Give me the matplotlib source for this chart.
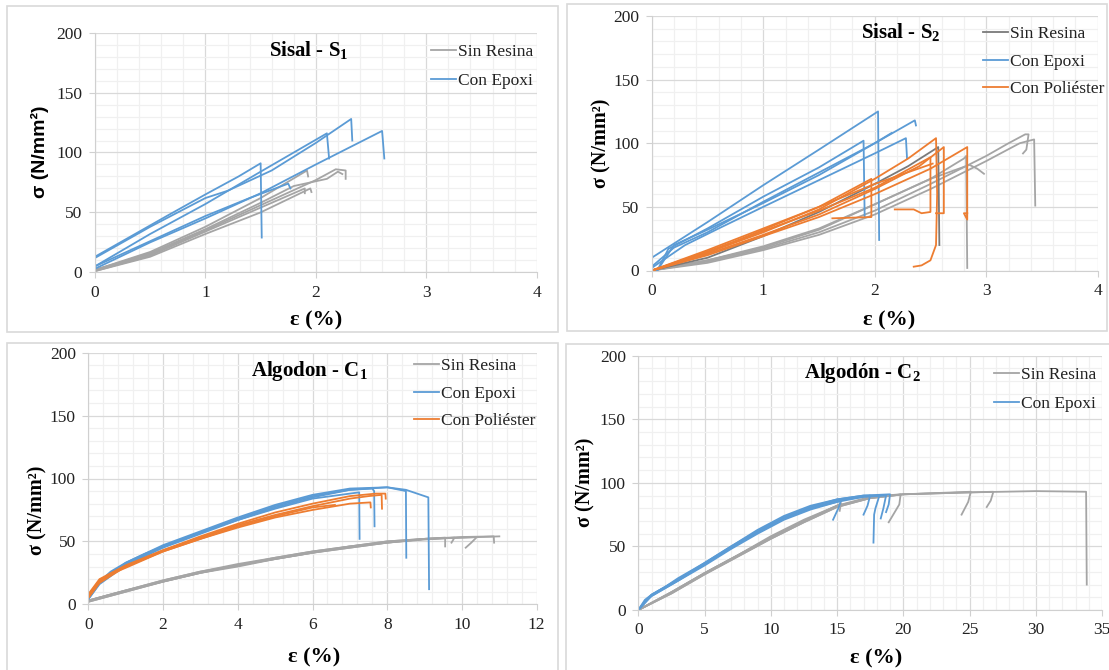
import matplotlib
matplotlib.use('Agg')
import matplotlib.pyplot as plt
from matplotlib.patches import Rectangle
from matplotlib.ticker import MultipleLocator

# ---- data (strain %, stress N/mm2) ----
# Sisal - S1
s1_sin = [
    ([0, 0.5, 1.0, 1.5, 1.92, 1.93], [2, 17, 38, 62, 85, 80]),
    ([0, 0.5, 1.0, 1.5, 2.0, 2.1, 2.18, 2.27, 2.27], [2, 15, 35, 56, 77, 82, 86, 85, 78]),
    ([0, 0.5, 1.0, 1.5, 1.95, 1.96], [1, 13, 32, 50, 70, 67]),
    ([0, 0.5, 1.0, 1.5, 1.85, 1.9, 1.9], [1, 14, 34, 54, 68, 70, 66]),
    ([0, 0.5, 1.0, 1.5, 1.8, 2.1, 2.2, 2.24], [2, 16, 36, 58, 72, 78, 84, 82]),
]
s1_epoxi = [
    ([0, 0.65, 1.0, 1.3, 1.5, 1.51], [13, 47, 65, 80, 91, 29]),
    ([0, 0.5, 1.0, 1.2, 1.6, 2.0, 2.32, 2.33], [12, 38, 62, 68, 85, 108, 128, 110]),
    ([0, 0.5, 1.0, 1.5, 2.1, 2.12], [5, 32, 57, 84, 116, 95]),
    ([0, 0.5, 1.0, 1.5, 2.0, 2.6, 2.62], [3, 25, 45, 66, 90, 118, 95]),
    ([0, 0.5, 1.0, 1.4, 1.75, 1.77], [5, 26, 47, 62, 74, 70]),
]

# Sisal - S2
s2_sin = [
    ([0, 0.5, 1.0, 1.5, 2.0, 2.5, 2.8, 2.82, 2.83], [0, 8, 18, 32, 52, 72, 88, 90, 2]),
    ([0, 0.5, 1.0, 1.5, 2.0, 2.5, 3.0, 3.2, 3.35, 3.38, 3.36, 3.33],
     [0, 7, 17, 30, 47, 68, 90, 100, 107, 107, 95, 92]),
    ([0, 0.5, 1.0, 1.5, 2.0, 2.5, 3.0, 3.3, 3.43, 3.44], [0, 6, 16, 28, 44, 64, 86, 100, 103, 51]),
    ([0, 0.5, 1.0, 1.5, 2.0, 2.5, 2.85, 2.92, 2.98], [0, 8, 19, 33, 52, 72, 83, 80, 76]),
]
s2_sin_dark = [
    ([0, 0.5, 1.0, 1.5, 2.0, 2.3, 2.57, 2.58], [0, 10, 27, 46, 68, 82, 97, 20]),
]
s2_epoxi = [
    ([0, 0.5, 1.0, 1.5, 2.03, 2.04], [10, 38, 67, 95, 125, 24]),
    ([0.05, 0.15, 0.5, 1.0, 1.5, 1.9, 1.91], [0, 17, 33, 58, 81, 102, 42]),
    ([0, 0.2, 0.5, 1.0, 1.5, 2.0, 2.36, 2.37], [3, 18, 30, 54, 77, 100, 118, 114]),
    ([0, 0.3, 0.6, 1.0, 1.5, 2.0, 2.28, 2.29], [2, 20, 33, 50, 71, 92, 104, 88]),
    ([0.05, 0.2, 0.5, 1.0, 1.5, 2.0, 2.15], [0, 20, 32, 53, 75, 100, 108]),
]
s2_poliester = [
    ([0, 0.5, 1.0, 1.5, 2.0, 2.3, 2.55, 2.56, 2.55, 2.5, 2.42, 2.35],
     [0, 14, 30, 48, 72, 88, 104, 60, 20, 8, 4, 3]),
    ([0, 0.5, 1.0, 1.5, 2.0, 2.4, 2.62, 2.62, 2.55], [0, 13, 28, 44, 64, 82, 97, 45, 45]),
    ([0, 0.5, 1.0, 1.5, 2.0, 2.5, 2.83, 2.83, 2.8, 2.83], [0, 12, 27, 42, 60, 80, 97, 40, 45, 45]),
    ([0, 0.5, 1.0, 1.5, 2.0, 2.5, 2.5, 2.42, 2.35, 2.18], [0, 15, 31, 47, 65, 89, 46, 45, 48, 48]),
    ([0, 0.5, 1.0, 1.5, 1.97, 1.97, 1.62], [0, 16, 33, 50, 72, 42, 41]),
    ([0, 0.5, 1.0, 1.5, 2.0, 2.52], [0, 14, 32, 50, 68, 84]),
]

# Algodon - C1
c1_sin = [
    ([0, 1, 2, 3, 4, 5, 6, 7, 8, 9, 9.55, 9.55], [3, 11, 19, 26, 31, 37, 42, 46, 50, 52, 53, 46]),
    ([0, 1, 2, 3, 4, 5, 6, 7, 8, 9, 9.8, 9.72], [2, 10, 18, 25, 31, 36, 41, 45, 49, 51.5, 53, 49]),
    ([0, 1, 2, 3, 4, 5, 6, 7, 8, 9, 10, 10.4, 10.25, 10.1],
     [3, 11, 19, 26, 32, 37, 42, 46, 50, 52, 53, 53.5, 49, 45]),
    ([0, 1, 2, 3, 4, 5, 6, 7, 8, 9, 10, 11], [2, 10, 18, 25, 30, 36, 41, 45, 49, 52, 53, 54]),
    ([0, 1, 2, 3, 4, 5, 6, 7, 8, 9, 10, 10.85, 10.86],
     [3, 11, 18, 25, 31, 36, 41, 46, 49, 52, 53.5, 54, 49]),
]
c1_epoxi = [
    ([0, 0.3, 0.6, 1, 1.5, 2, 3, 4, 5, 6, 7, 7.25, 7.26],
     [5, 18, 26, 33, 40, 46, 57, 67, 76, 84, 88, 89, 52]),
    ([0, 0.3, 0.6, 1, 2, 3, 4, 5, 6, 7, 7.6, 7.65, 7.66],
     [4, 17, 25, 32, 46, 57, 68, 78, 86, 91, 92, 90, 62]),
    ([0, 0.3, 1, 2, 3, 4, 5, 6, 7, 8, 8.5, 8.51], [5, 17, 33, 47, 58, 69, 79, 87, 92, 93, 90, 37]),
    ([0, 0.3, 1, 2, 3, 4, 5, 6, 7, 8, 8.5, 9.1, 9.12],
     [4, 16, 31, 45, 56, 67, 77, 85, 91, 93, 91, 85, 12]),
]
c1_poliester = [
    ([0, 0.3, 0.6, 1, 2, 3, 4, 5, 6, 7, 7.55, 7.56], [6, 18, 24, 29, 42, 52, 61, 69, 75, 80, 81, 77]),
    ([0, 0.3, 1, 2, 3, 4, 5, 6, 7, 7.5, 7.85, 7.86], [8, 20, 31, 43, 53, 63, 71, 78, 84, 86, 87, 76]),
    ([0, 0.3, 1, 2, 3, 4, 5, 6, 7, 7.7, 7.95, 7.96], [5, 17, 30, 43, 54, 64, 73, 80, 86, 88, 88, 84]),
    ([0, 0.3, 1, 2, 3, 4, 5, 6, 6.6], [7, 19, 30, 42, 52, 62, 70, 77, 79]),
]

# Algodon - C2
c2_sin = [
    ([0, 2.5, 5, 7.5, 10, 12.5, 15, 17.5, 19.8, 19.7, 18.9],
     [0, 14, 29, 43, 57, 70, 82, 89, 91, 83, 69]),
    ([0, 2.5, 5, 7.5, 10, 12.5, 15, 17.5, 20, 25.1, 24.9, 24.4],
     [0, 13, 28, 42, 56, 69, 81, 88, 91, 93, 85, 75]),
    ([0, 2.5, 5, 7.5, 10, 12.5, 15, 17.5, 20, 25, 26.8, 26.6, 26.3],
     [0, 14, 29, 43, 57, 70, 82, 88, 91, 92.5, 93, 86, 81]),
    ([0, 2.5, 5, 7.5, 10, 12.5, 15, 17.5, 20, 25, 30, 33.8, 33.85],
     [0, 13, 28, 42, 56, 69, 81, 88, 91, 92.5, 93.5, 93, 20]),
    ([0, 2.5, 5, 7.5, 10, 12.5, 15, 15.3, 15.2], [0, 14, 29, 43, 58, 71, 82, 84, 78]),
]
c2_epoxi = [
    ([0, 0.5, 1, 2, 3, 5, 7, 9, 11, 13, 15, 15.3, 15.1, 14.7],
     [0, 8, 12, 18, 24, 36, 49, 61, 72, 80, 85, 86, 80, 71]),
    ([0, 0.5, 1, 2, 3, 5, 7, 9, 11, 13, 15, 17, 17.5, 17.3, 17.0],
     [0, 7, 11, 17, 23, 35, 48, 60, 71, 79, 85, 89, 90, 82, 75]),
    ([0, 1, 2, 3, 5, 7, 9, 11, 13, 15, 17, 18.2, 17.9, 17.8, 17.75],
     [0, 12, 18, 24, 37, 50, 62, 73, 81, 87, 90, 90, 80, 75, 53]),
    ([0, 1, 2, 3, 5, 7, 9, 11, 13, 15, 17, 18.7, 18.5, 18.3],
     [0, 11, 17, 23, 36, 49, 61, 72, 80, 86, 89, 90, 80, 72]),
    ([0, 1, 2, 3, 5, 7, 9, 11, 13, 15, 17, 19.0, 18.9, 18.7],
     [0, 12, 18, 25, 37, 50, 63, 74, 82, 87, 90, 91, 83, 77]),
]

GRAY = '#A5A5A5'
DARK = '#7A7A7A'
BLUE = '#5B9BD5'
ORANGE = '#ED7D31'

plt.rcParams['font.family'] = 'Liberation Serif'
plt.rcParams['mathtext.fontset'] = 'custom'
plt.rcParams['mathtext.rm'] = 'Liberation Serif'
plt.rcParams['mathtext.bf'] = 'Liberation Serif:bold'
plt.rcParams['mathtext.it'] = 'Liberation Serif:italic'

W, H = 1109, 670
fig = plt.figure(figsize=(W / 100, H / 100), dpi=100)


def px(x, y):
    return x / W, 1 - y / H


def box(l, t, r, b):
    return [l / W, 1 - b / H, (r - l) / W, (b - t) / H]


def frame(l, t, r, b):
    fig.patches.append(Rectangle((l / W, 1 - b / H), (r - l) / W, (b - t) / H,
                                 transform=fig.transFigure, fill=False,
                                 edgecolor='#D9D9D9', lw=1.2))


def make_axes(rect, xmax, xmaj, xmin):
    ax = fig.add_axes(rect)
    ax.set_xlim(0, xmax)
    ax.set_ylim(0, 200)
    ax.xaxis.set_major_locator(MultipleLocator(xmaj))
    ax.xaxis.set_minor_locator(MultipleLocator(xmin))
    ax.yaxis.set_major_locator(MultipleLocator(50))
    ax.yaxis.set_minor_locator(MultipleLocator(10))
    ax.grid(which='major', color='#D9D9D9', lw=0.9)
    ax.grid(which='minor', color='#F0F0F0', lw=0.9)
    ax.set_axisbelow(True)
    for s in ['top', 'right']:
        ax.spines[s].set_visible(False)
    for s in ['left', 'bottom']:
        ax.spines[s].set_color('#D0D0D0')
    ax.tick_params(which='major', length=4, color='#D0D0D0', labelsize=12.5,
                   labelcolor='#222222', pad=5)
    ax.tick_params(which='minor', length=0)
    return ax


def draw(ax, curves, color, label):
    for i, (x, y) in enumerate(curves):
        ax.plot(x, y, color=color, lw=1.3, label=label if i == 0 else None,
                solid_joinstyle='round')


def legend(ax, x, y, gap):
    leg = ax.legend(loc='upper left', bbox_to_anchor=px(x - 2, y - 6),
                    bbox_transform=fig.transFigure, frameon=False, fontsize=12.5,
                    handlelength=1.45, handletextpad=0.1, borderpad=0,
                    borderaxespad=0, labelspacing=gap)
    for t in leg.get_texts():
        t.set_color('#222222')


def labels(xl, yl, ylabel_font='Liberation Serif'):
    fig.text(*px(*xl), 'ε (%)', ha='center', va='center', fontsize=16,
             fontweight='bold')
    fig.text(*px(*yl), 'σ (N/mm²)', ha='center', va='center', rotation=90,
             fontsize=14.5 if ylabel_font == 'Liberation Serif' else 14,
             fontweight='bold', family=ylabel_font)


# ---- Sisal - S1 ----
frame(7, 6, 558, 332)
ax1 = make_axes(box(95, 32.7, 536.7, 272.3), 4, 1, 0.2)
draw(ax1, s1_sin, GRAY, 'Sin Resina')
draw(ax1, s1_epoxi, BLUE, 'Con Epoxi')
legend(ax1, 433, 50, 0.75)
fig.text(*px(309, 50), r'Sisal - S$_\mathbf{1}$', ha='center', va='center',
         fontsize=15, fontweight='bold')
labels((316, 320), (40, 152), 'Liberation Sans')

# ---- Sisal - S2 ----
frame(567, 4, 1107, 331)
ax2 = make_axes(box(651.7, 16, 1097.7, 270.5), 4, 1, 0.2)
draw(ax2, s2_sin, GRAY, None)
draw(ax2, s2_sin_dark, DARK, 'Sin Resina')
draw(ax2, s2_epoxi, BLUE, 'Con Epoxi')
draw(ax2, s2_poliester, ORANGE, 'Con Poliéster')
legend(ax2, 985, 32, 0.65)
fig.text(*px(901, 32), r'Sisal - S$_\mathbf{2}$', ha='center', va='center',
         fontsize=15, fontweight='bold')
labels((889, 320), (601, 143))

# ---- Algodon - C1 ----
frame(7, 343, 558, 672)
ax3 = make_axes(box(88.3, 352.7, 536.7, 604.3), 12, 2, 0.4)
draw(ax3, c1_sin, GRAY, 'Sin Resina')
draw(ax3, c1_epoxi, BLUE, 'Con Epoxi')
draw(ax3, c1_poliester, ORANGE, 'Con Poliéster')
legend(ax3, 416, 364, 0.65)
fig.text(*px(309, 371), r'Algodon - C$_\mathbf{1}$', ha='center', va='center',
         fontsize=15, fontweight='bold')
labels((314, 657), (37, 510))

# ---- Algodon - C2 ----
frame(566, 344, 1112, 672)
ax4 = make_axes(box(638.3, 355.7, 1102, 610), 35, 5, 1)
draw(ax4, c2_sin, GRAY, 'Sin Resina')
draw(ax4, c2_epoxi, BLUE, 'Con Epoxi')
legend(ax4, 996, 373, 0.75)
fig.text(*px(862, 373), r'Algodón - C$_\mathbf{2}$', ha='center', va='center',
         fontsize=15, fontweight='bold')
labels((876, 658), (585, 482))

fig.savefig('out.png', dpi=100)
